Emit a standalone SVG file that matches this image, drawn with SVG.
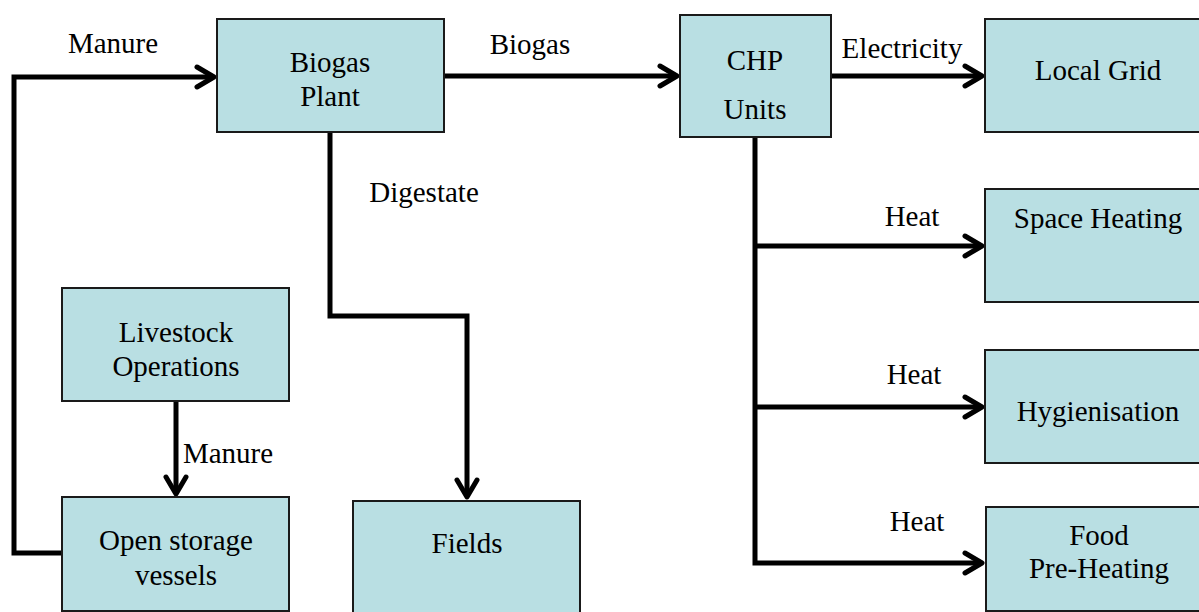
<svg xmlns="http://www.w3.org/2000/svg" width="1199" height="612" viewBox="0 0 1199 612">
<style>
.box{fill:#b9dfe3;stroke:#1a1a1a;stroke-width:2}
.t{font-family:"Liberation Serif","Times New Roman",serif;font-size:29px;fill:#000;text-anchor:middle}
.c{fill:none;stroke:#000;stroke-width:5;stroke-linejoin:miter}
</style>
<defs>
<marker id="ah" markerUnits="userSpaceOnUse" viewBox="-22 -14 25 28" refX="0" refY="0" markerWidth="25" markerHeight="28" orient="auto">
<path d="M-17 -10 L0 0 L-17 10" fill="none" stroke="#000" stroke-width="5" stroke-linecap="round" stroke-linejoin="round"/>
</marker>
</defs>
<rect width="1199" height="612" fill="#fff"/>
<g id="connectors">
<path class="c" d="M62 553 H14 V77 H214" marker-end="url(#ah)"/>
<path class="c" d="M444 76 H677" marker-end="url(#ah)"/>
<path class="c" d="M831 76 H982" marker-end="url(#ah)"/>
<path class="c" d="M330 132 V316 H467 V497" marker-end="url(#ah)"/>
<path class="c" d="M176 401 V494" marker-end="url(#ah)"/>
<path class="c" d="M755 137 V563 H982" marker-end="url(#ah)"/>
<path class="c" d="M755 246 H982" marker-end="url(#ah)"/>
<path class="c" d="M755 407 H982" marker-end="url(#ah)"/>
<text class="t" x="113" y="53">Manure</text>
<text class="t" x="530" y="54">Biogas</text>
<text class="t" x="902" y="58">Electricity</text>
<text class="t" x="424" y="202">Digestate</text>
<text class="t" x="228" y="463">Manure</text>
<text class="t" x="912" y="226">Heat</text>
<text class="t" x="914" y="384">Heat</text>
<text class="t" x="917" y="531">Heat</text>
</g>
<g id="biogas-plant"><rect class="box" x="217" y="19" width="227" height="113"/><text class="t" x="330" y="72">Biogas</text><text class="t" x="330" y="106">Plant</text></g>
<g id="chp-units"><rect class="box" x="680" y="15" width="151" height="122"/><text class="t" x="755" y="70">CHP</text><text class="t" x="755" y="119">Units</text></g>
<g id="local-grid"><rect class="box" x="985" y="19" width="230" height="113"/><text class="t" x="1098" y="80">Local Grid</text></g>
<g id="space-heating"><rect class="box" x="985" y="189" width="230" height="113"/><text class="t" x="1098" y="228">Space Heating</text></g>
<g id="hygienisation"><rect class="box" x="985" y="350" width="230" height="113"/><text class="t" x="1098" y="421">Hygienisation</text></g>
<g id="food-pre-heating"><rect class="box" x="986" y="507" width="230" height="104"/><text class="t" x="1099" y="545">Food</text><text class="t" x="1099" y="578">Pre-Heating</text></g>
<g id="livestock"><rect class="box" x="62" y="288" width="227" height="113"/><text class="t" x="176" y="342">Livestock</text><text class="t" x="176" y="376">Operations</text></g>
<g id="open-storage"><rect class="box" x="62" y="497" width="227" height="114"/><text class="t" x="176" y="550">Open storage</text><text class="t" x="176" y="585">vessels</text></g>
<g id="fields"><rect class="box" x="353" y="501" width="227" height="115"/><text class="t" x="467" y="553">Fields</text></g>
</svg>
